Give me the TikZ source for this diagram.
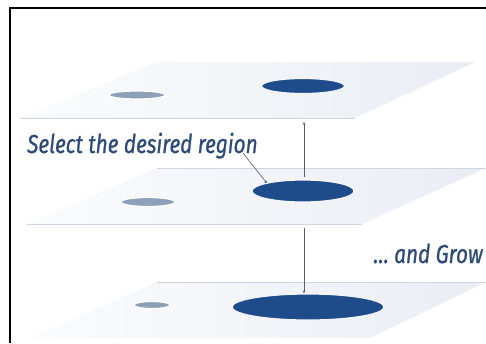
\documentclass[tikz,border=0pt]{standalone}
\usepackage{fontspec}
\newfontfamily\labfont[FakeStretch=0.8,FakeBold=0.8]{Fira Sans}
\usetikzlibrary{shapes.geometric,arrows.meta}
\definecolor{planeC}{RGB}{226,231,240}
\definecolor{planeEdge}{RGB}{208,214,225}
\definecolor{darkE}{RGB}{30,76,138}
\definecolor{grayE}{RGB}{140,160,185}
\definecolor{txtC}{RGB}{45,75,118}
\definecolor{arrC}{RGB}{85,95,115}
\tikzset{
  plane/.style={left color=planeC!15, middle color=planeC, right color=planeC!75, draw=none},
  planeline/.style={draw=planeEdge, line width=0.8pt},
  region/.style={ellipse, fill=darkE, draw=white!80!blue!20, line width=1.2pt, inner sep=0pt},
  other/.style={ellipse, fill=grayE, draw=white, line width=1.2pt, inner sep=0pt},
  lab/.style={font=\labfont\itshape\fontsize{26}{31}\selectfont, text=txtC, inner sep=0pt},
  conn/.style={draw=arrC, line width=0.6pt},
}
\begin{document}
\begin{tikzpicture}[x=1pt,y=-1pt]
\useasboundingbox (0,0) rectangle (486,343);
\fill[white] (0,0) rectangle (486,343);
% frame
\draw[line width=2pt] (10,343) -- (10,8) -- (486,8);
% planes
\path[plane] (157,62) -- (475,62) -- (355,118) -- (20,118) -- cycle;
\draw[planeline] (20,118) -- (355,118);
\path[plane] (157,168) -- (486,168) -- (362,224) -- (27,224) -- cycle;
\draw[planeline] (157,168) -- (486,168);
\draw[planeline] (27,224) -- (362,224);
\path[plane] (157,282) -- (486,282) -- (370,338) -- (30,338) -- cycle;
\draw[planeline] (157,282) -- (486,282);
% regions
\node[other, minimum width=56pt, minimum height=8pt] (g1) at (137,95) {};
\node[region, minimum width=83pt, minimum height=15pt] (r1) at (303,86) {};
\node[other, minimum width=54pt, minimum height=9pt] (g2) at (148,202) {};
\node[region, minimum width=102pt, minimum height=22pt] (r2) at (303,191) {};
\node[other, minimum width=36pt, minimum height=7pt] (g3) at (152,305) {};
\node[region, minimum width=152pt, minimum height=26pt] (r3) at (308,307) {};
% labels
\node[lab, anchor=base west] (sel) at (27,153) {Select the desired region};
\node[lab, anchor=base east] (grow) at (483,263) {\dots\ and Grow};
% connectors
\coordinate (top1) at (304,122);
\coordinate (mid1) at (304,228);
\coordinate (ptr) at (243,153);
\draw[conn, -{Stealth[length=3pt,width=2.5pt]}] (304,177) -- (top1);
\draw[conn, -{Stealth[length=3pt,width=2.5pt]}] (mid1) -- (r3.north -| mid1);
\draw[conn, -{Circle[length=2.5pt]}] (ptr) -- (r2.north west);
\end{tikzpicture}
\end{document}
